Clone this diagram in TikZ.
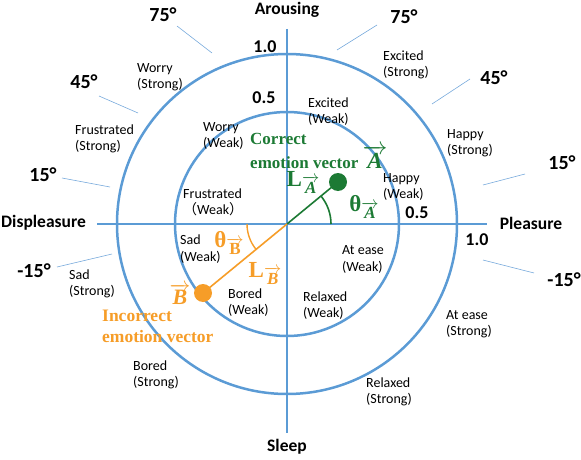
\documentclass[tikz,border=0pt]{standalone}
\usepackage{fontspec}
\setmainfont{Carlito}
\newfontfamily\timesf{Liberation Serif}
\newfontfamily\cjkf{Noto Sans CJK SC}
\definecolor{axblue}{RGB}{91,155,213}
\definecolor{tickblue}{RGB}{120,170,220}
\definecolor{vgreen}{RGB}{28,122,52}
\definecolor{vorange}{RGB}{246,157,40}
\newcommand{\arrowlet}[1]{$\overrightarrow{\mbox{#1}}$}
\begin{document}
\begin{tikzpicture}[x=1pt,y=-1pt,
  lbl/.style={anchor=west,align=left,inner sep=0pt,font=\fontsize{14}{16.3}\selectfont},
  axlbl/.style={inner sep=0pt,font=\fontsize{17.5}{20}\selectfont\bfseries},
  numlbl/.style={inner sep=0pt,font=\fontsize{18}{20}\selectfont\bfseries},
  deglbl/.style={inner sep=0pt,font=\fontsize{20}{22}\selectfont\bfseries},
  axline/.style={axblue,line width=2.5pt},
  tickline/.style={tickblue,line width=0.6pt},
  dotnode/.style={circle,inner sep=0pt,minimum size=18pt},
  vlabel/.style={inner sep=0pt,font=\timesf\bfseries}
]
\useasboundingbox (0,0) rectangle (581,460);
% axes and circles
\coordinate (O) at (287,224);
\coordinate (top) at (287,29);
\coordinate (bot) at (287,433);
\coordinate (lft) at (97,224);
\coordinate (rgt) at (487,224);
\draw[axline] (O) circle[radius=112];
\draw[axline] (O) circle[radius=170];
\draw[axline] (top) -- (bot);
\draw[axline] (lft) -- (rgt);
% axis labels
\node[axlbl] (arousing) at (287,10) {Arousing};
\node[axlbl] (sleep) at (287,447) {Sleep};
\node[axlbl,anchor=west] (displeasure) at (1,223) {Displeasure};
\node[axlbl] (pleasure) at (531,223) {Pleasure};
\node[numlbl] (n1t) at (265,47) {1.0};
\node[numlbl] (n5t) at (264,98) {0.5};
\node[numlbl] (n5r) at (417,213) {0.5};
\node[numlbl] (n1r) at (477,240) {1.0};
% degree labels and ticks
\node[deglbl] (d75l) at (163,15) {75°};
\node[deglbl] (d75r) at (404,17) {75°};
\node[deglbl] (d45l) at (84,82) {45°};
\node[deglbl] (d45r) at (494,78) {45°};
\node[deglbl] (d15l) at (43,175) {15°};
\node[deglbl] (d15r) at (562,163) {15°};
\node[deglbl] (dm15l) at (34,271) {-15°};
\node[deglbl] (dm15r) at (564,280) {-15°};
\coordinate (t1a) at (177,26); \coordinate (t1b) at (212,53);
\coordinate (t2a) at (377,25); \coordinate (t2b) at (337,50);
\coordinate (t3a) at (99,96);  \coordinate (t3b) at (138,113);
\coordinate (t4a) at (470,79); \coordinate (t4b) at (432,104);
\coordinate (t5a) at (62,178); \coordinate (t5b) at (110,187);
\coordinate (t6a) at (525,174); \coordinate (t6b) at (483,185);
\coordinate (t7a) at (57,267); \coordinate (t7b) at (112,254);
\coordinate (t8a) at (483,260); \coordinate (t8b) at (534,273);
\draw[tickline] (t1a) -- (t1b);
\draw[tickline] (t2a) -- (t2b);
\draw[tickline] (t3a) -- (t3b);
\draw[tickline] (t4a) -- (t4b);
\draw[tickline] (t5a) -- (t5b);
\draw[tickline] (t6a) -- (t6b);
\draw[tickline] (t7a) -- (t7b);
\draw[tickline] (t8a) -- (t8b);
% strong emotions
\node[lbl] (worryS) at (137,77) {Worry\\(Strong)};
\node[lbl] (frusS) at (75,138.5) {Frustrated\\(Strong)};
\node[lbl] (happyS) at (447,143) {Happy\\(Strong)};
\node[lbl] (excS) at (383,65) {Excited\\(Strong)};
\node[lbl] (easeS) at (446,324.5) {At ease\\(Strong)};
\node[lbl] (relS) at (366,391.5) {Relaxed\\(Strong)};
\node[lbl] (boredS) at (133,375) {Bored\\(Strong)};
\node[lbl] (sadS) at (69,284) {Sad\\(Strong)};
% weak emotions
\node[lbl] (excW) at (308,111.5) {Excited\\(Weak)};
\node[lbl] (worryW) at (203,136) {Worry\\(Weak)};
\node[lbl] (frusW) at (183,202) {Frustrated\\{\cjkf （}Weak{\cjkf ）}};
\node[lbl] (happyW) at (383,187) {Happy\\(Weak)};
\node[lbl] (sadW) at (180,249) {Sad\\(Weak)};
\node[lbl] (easeW) at (342,259.5) {At ease\\(Weak)};
\node[lbl] (boredW) at (228,302.5) {Bored\\(Weak)};
\node[lbl] (relW) at (303,305.5) {Relaxed\\(Weak)};
% vectors
\node[dotnode,fill=vgreen] (Adot) at (338,182) {};
\node[dotnode,fill=vorange] (Bdot) at (203,293) {};
\draw[vgreen,line width=1.6pt] (O) -- (Adot.center);
\draw[vorange,line width=1.6pt] (O) -- (Bdot.center);
\begin{scope}[shift={(O)},y=1pt]
  \draw[vgreen,line width=1.6pt] (0:44) arc[start angle=0,end angle=39.5,radius=44];
  \draw[vorange,line width=1.4pt] (180:40) arc[start angle=180,end angle=219.4,radius=40];
\end{scope}
% vector labels
\node[vlabel,vgreen,anchor=west,align=left,font=\timesf\bfseries\fontsize{17}{22.5}\selectfont] (corr) at (250,151)
  {Correct\\emotion vector {\fontsize{23}{23}\selectfont\itshape\arrowlet{A}}};
\node[vlabel,vgreen] (LA) at (303,182) {\fontsize{23}{23}\selectfont L\raisebox{-7pt}{\fontsize{17}{17}\selectfont\itshape\arrowlet{A}}};
\node[vlabel,vgreen] (thA) at (364,207) {\fontsize{23}{23}\selectfont θ\raisebox{-7pt}{\fontsize{17}{17}\selectfont\itshape\arrowlet{A}}};
\node[vlabel,vorange] (thB) at (229,243) {\fontsize{23}{23}\selectfont θ\raisebox{-7pt}{\fontsize{17}{17}\selectfont\arrowlet{B}}};
\node[vlabel,vorange] (LB) at (265,273) {\fontsize{23}{23}\selectfont L\raisebox{-7pt}{\fontsize{17}{17}\selectfont\itshape\arrowlet{B}}};
\node[vlabel,vorange] (Bvec) at (180,294) {\fontsize{22}{22}\selectfont\itshape\arrowlet{B}};
\node[vlabel,vorange,anchor=west,align=left,font=\timesf\bfseries\fontsize{17.5}{21}\selectfont] (incorr) at (102,326.5)
  {Incorrect\\emotion vector};
\end{tikzpicture}
\end{document}
